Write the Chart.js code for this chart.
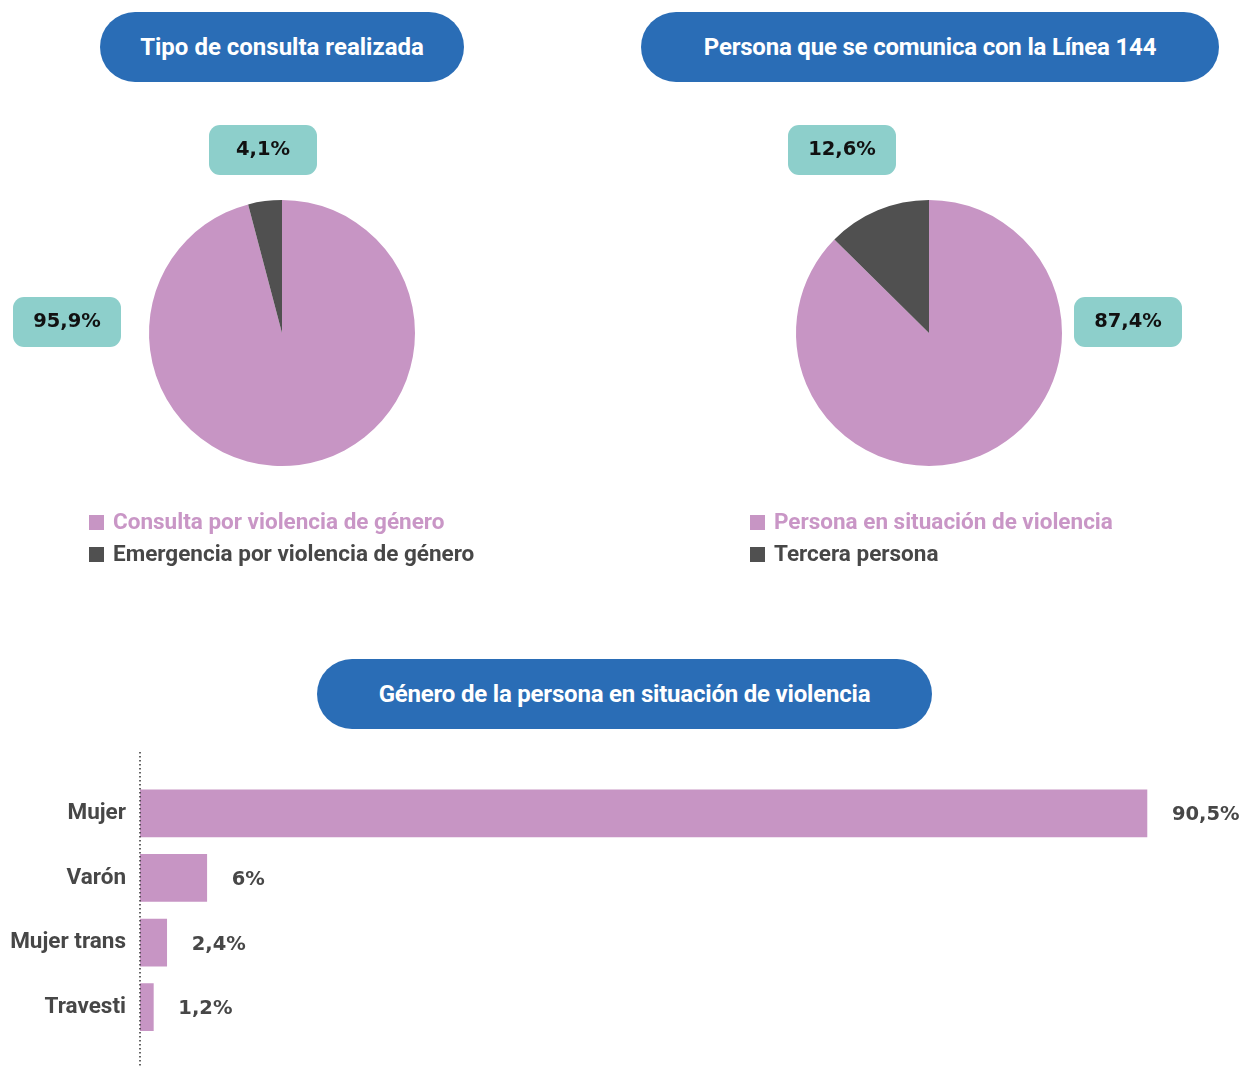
<!DOCTYPE html>
<html>
<head>
<meta charset="utf-8">
<script src="https://cdn.jsdelivr.net/npm/chart.js@4"></script>
<style>
  html,body{margin:0;padding:0;background:#fff;}
  body{width:1241px;height:1067px;position:relative;overflow:hidden;font-family:Roboto,"Open Sans",sans-serif;}
  .pill{position:absolute;height:70px;border-radius:35px;background:#2a6db6;color:#fff;font-weight:700;font-size:24px;display:flex;align-items:center;justify-content:center;}
  .cv{position:absolute;}
</style>
</head>
<body>
<div class="pill" style="left:100px;top:12px;width:364px;">Tipo de consulta realizada</div>
<div class="pill" style="left:641px;top:12px;width:578px;letter-spacing:-0.2px;">Persona que se comunica con la Línea 144</div>
<div class="pill" style="left:317px;top:659px;width:615px;letter-spacing:-0.2px;">Género de la persona en situación de violencia</div>

<div class="cv" style="left:0;top:100px;width:620px;height:500px;"><canvas id="pie1" width="620" height="500"></canvas></div>
<div class="cv" style="left:620px;top:100px;width:621px;height:500px;"><canvas id="pie2" width="621" height="500"></canvas></div>
<div class="cv" style="left:0;top:740px;width:1241px;height:327px;"><canvas id="bar" width="1241" height="327"></canvas></div>

<script>
// ---- data ----
const pie1Labels = ["Consulta por violencia de género", "Emergencia por violencia de género"];
const pie1Values = [95.9, 4.1];
const pie1Text = ["95,9%", "4,1%"];

const pie2Labels = ["Persona en situación de violencia", "Tercera persona"];
const pie2Values = [87.4, 12.6];
const pie2Text = ["87,4%", "12,6%"];

const barLabels = ["Mujer", "Varón", "Mujer trans", "Travesti"];
const barValues = [90.5, 6, 2.4, 1.2];
const barText = ["90,5%", "6%", "2,4%", "1,2%"];

// ---- styles ----
const PINK = "#c795c4";
const DARK = "#505050";
const TEAL = "#8dcfcb";
const FONT = "Roboto, 'Open Sans', sans-serif";
const NUMFONT = "'DejaVu Sans', Roboto, sans-serif";

function roundRect(ctx, x, y, w, h, r) {
  ctx.beginPath();
  ctx.moveTo(x + r, y);
  ctx.arcTo(x + w, y, x + w, y + h, r);
  ctx.arcTo(x + w, y + h, x, y + h, r);
  ctx.arcTo(x, y + h, x, y, r);
  ctx.arcTo(x, y, x + w, y, r);
  ctx.closePath();
}

// plugin: teal label boxes + custom vertical legend for pies
const pieDecor = {
  id: "pieDecor",
  afterDraw(chart, args, opts) {
    const ctx = chart.ctx;
    const meta = chart.getDatasetMeta(0);
    const arc0 = meta.data[0];
    const cx = arc0.x, cy = arc0.y;
    ctx.save();
    // label boxes
    opts.texts.forEach((t, i) => {
      const off = opts.offsets[i];
      const bx = cx + off[0], by = cy + off[1];
      const w = 108, h = 50;
      roundRect(ctx, bx - w / 2, by - h / 2, w, h, 11);
      ctx.fillStyle = TEAL;
      ctx.fill();
      ctx.fillStyle = "#111";
      ctx.font = "700 19.5px " + NUMFONT;
      ctx.textAlign = "center";
      ctx.textBaseline = "middle";
      ctx.fillText(t, bx, by);
    });
    // legend
    const colors = chart.data.datasets[0].backgroundColor;
    const textColors = opts.legendTextColors;
    chart.data.labels.forEach((lab, i) => {
      const y = opts.legendY + i * 32;
      ctx.fillStyle = colors[i];
      ctx.fillRect(opts.legendX, y - 7, 15, 15);
      ctx.fillStyle = textColors[i];
      ctx.font = "700 22.5px " + FONT;
      ctx.textAlign = "left";
      ctx.textBaseline = "middle";
      ctx.fillText(lab, opts.legendX + 24, y + 1);
    });
    ctx.restore();
  }
};

function makePie(id, labels, values, texts, padding, offsets, legendX) {
  new Chart(document.getElementById(id), {
    type: "pie",
    data: {
      labels: labels,
      datasets: [{ data: values, backgroundColor: [PINK, DARK], borderWidth: 0 }]
    },
    options: {
      responsive: false,
      animation: false,
      layout: { padding: padding },
      plugins: {
        legend: { display: false },
        tooltip: { enabled: false },
        pieDecor: {
          texts: texts,
          offsets: offsets,
          legendX: legendX,
          legendY: 422,
          legendTextColors: ["#c996c6", "#474747"]
        }
      }
    },
    plugins: [pieDecor]
  });
}

makePie("pie1", pie1Labels, pie1Values, pie1Text,
  { left: 149, right: 205, top: 100, bottom: 134 },
  [[-215, -11], [-19, -183]], 89);
makePie("pie2", pie2Labels, pie2Values, pie2Text,
  { left: 176, right: 179, top: 100, bottom: 134 },
  [[199, -11], [-87, -183]], 130);

// bar chart plugin: value labels + dotted axis
const barDecor = {
  id: "barDecor",
  afterDatasetsDraw(chart) {
    const ctx = chart.ctx;
    const meta = chart.getDatasetMeta(0);
    const x0 = chart.scales.x.getPixelForValue(0);
    ctx.save();
    // dotted baseline
    ctx.strokeStyle = "#333";
    ctx.lineWidth = 1.5;
    ctx.setLineDash([1.5, 2.5]);
    ctx.beginPath();
    ctx.moveTo(x0, 12);
    ctx.lineTo(x0, chart.height);
    ctx.stroke();
    ctx.setLineDash([]);
    // labels
    ctx.fillStyle = "#474747";
    ctx.font = "700 19.5px " + NUMFONT;
    ctx.textAlign = "left";
    ctx.textBaseline = "middle";
    meta.data.forEach((bar, i) => {
      ctx.fillText(barText[i], bar.x + 25, bar.y + 2);
    });
    ctx.restore();
  }
};

new Chart(document.getElementById("bar"), {
  type: "bar",
  data: {
    labels: barLabels,
    datasets: [{ data: barValues, backgroundColor: PINK, borderWidth: 0, barThickness: 47 }]
  },
  options: {
    indexAxis: "y",
    responsive: false,
    animation: false,
    layout: { padding: { left: 0, right: 10.6, top: 41, bottom: 24 } },
    plugins: { legend: { display: false }, tooltip: { enabled: false } },
    scales: {
      x: { min: 0, max: 98, display: false },
      y: {
        afterFit(scale) { scale.width = 140; },
        grid: { display: false, drawTicks: false },
        border: { display: false },
        ticks: { padding: 14, color: "#474747", font: { family: FONT, size: 22.5, weight: "700" } }
      }
    }
  },
  plugins: [barDecor]
});
</script>
</body>
</html>
